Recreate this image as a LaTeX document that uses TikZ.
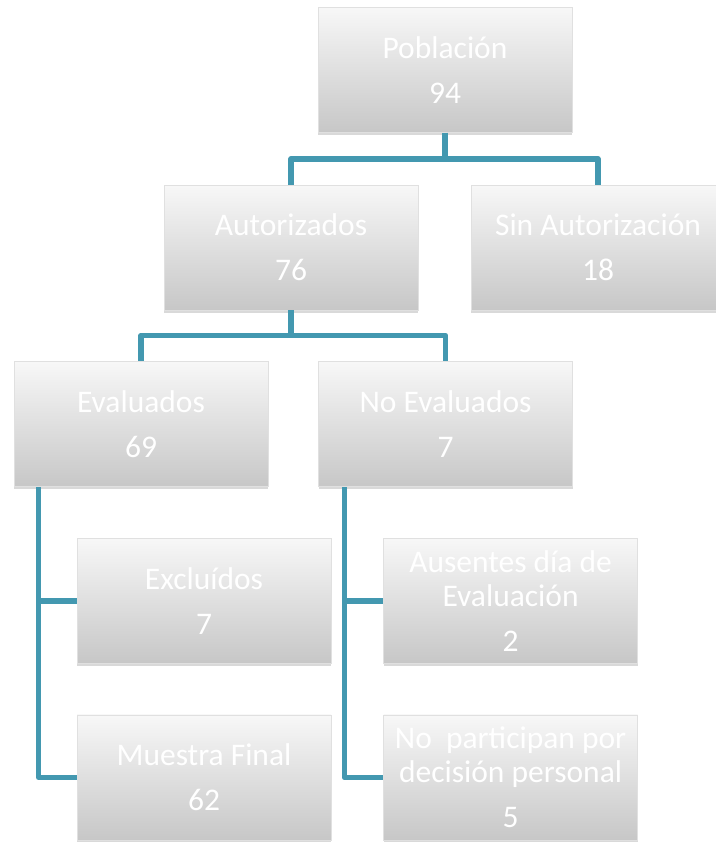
\documentclass[tikz,border=0pt]{standalone}
\usepackage{fontspec}
\setmainfont{Carlito}
\usepackage{tikz}
\usetikzlibrary{positioning,shadows}
\definecolor{linkteal}{HTML}{4398B0}

\begin{document}
\begin{tikzpicture}[x=1pt, y=1pt, font=\fontsize{31.5}{34}\selectfont,
  box/.style={draw=black!12, line width=0.6pt, top color=black!3, bottom color=black!22,
    minimum width=254pt, minimum height=125pt, inner sep=1pt, align=center, text=white,
    drop shadow={shadow xshift=0pt, shadow yshift=-2.5pt, opacity=0.3}},
  link/.style={draw=linkteal, line width=5.5pt, line join=round},
  every node/.style={align=center}]
\useasboundingbox (0,0) rectangle (715,-842);
\node[box] (pob) at (445,-70) {Población\\[11pt]94};
\node[box, below=52pt of pob, xshift=-154pt] (aut) {Autorizados\\[11pt]76};
\node[box, below=52pt of pob, xshift=153pt] (sin) {Sin Autorización\\[11pt]18};
\node[box, below=51pt of aut, xshift=-150pt] (eva) {Evaluados\\[11pt]69};
\node[box, right=50pt of eva] (noe) {No Evaluados\\[11pt]7};
\node[box, below=51pt of eva, xshift=63pt] (exc) {Excluídos\\[11pt]7};
\node[box, below=51pt of exc] (mue) {Muestra Final\\[11pt]62};
\node[box, below=51pt of noe, xshift=65pt] (aus) {Ausentes día de\\Evaluación\\[11pt]2};
\node[box, below=51pt of aus] (nop) {No~~participan por\\decisión personal\\[11pt]5};
\draw[link] (pob.south) -- ++(0,-26) -| (aut.north);
\draw[link] (pob.south) -- ++(0,-26) -| (sin.north);
\draw[link] (aut.south) -- ++(0,-25) -| (eva.north);
\draw[link] (aut.south) -- ++(0,-25) -| (noe.north);
\draw[link] ([xshift=25pt]eva.south west) |- (exc.west);
\draw[link] ([xshift=25pt]eva.south west) |- (mue.west);
\draw[link] ([xshift=26pt]noe.south west) |- (aus.west);
\draw[link] ([xshift=26pt]noe.south west) |- (nop.west);
\end{tikzpicture}
\end{document}
